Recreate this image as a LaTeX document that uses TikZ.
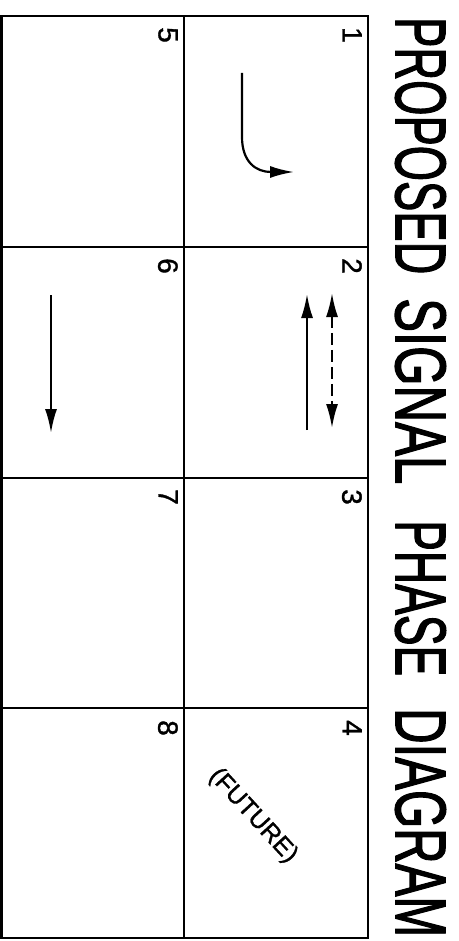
\documentclass[tikz,border=0pt]{standalone}
\usepackage{graphicx}
\usepackage{fontspec}
\setmainfont{Liberation Sans}
\newfontfamily\heavy[FakeBold=1.2]{Liberation Sans}
\newfontfamily\heavier[FakeBold=2]{Liberation Sans}
\usetikzlibrary{arrows.meta}
\begin{document}
\begin{tikzpicture}[x=1pt,y=-1pt,
  gridline/.style={line width=2.6pt},
  arr/.style={line width=2.2pt,-{Latex[length=24pt,width=12pt]}},
  darr/.style={line width=2.2pt,dash pattern=on 12pt off 5pt,{Latex[length=24pt,width=12pt]}-{Latex[length=24pt,width=12pt]}},
  num/.style={rotate=-90,anchor=north west,inner sep=0pt,font=\heavy\fontsize{28}{28}\selectfont},
  ttl/.style={rotate=-90,anchor=north west,inner sep=0pt,font=\heavier}]
\useasboundingbox[fill=white] (0,0) rectangle (458,941);
% grid
\draw[gridline] (1.3,16) rectangle (368,938);
\draw[gridline] (184,16) -- (184,938);
\foreach \yy in {247,478,708} \draw[gridline] (1.3,\yy) -- (368,\yy);
% title
\node[ttl] (t1) at (446,17)  {\resizebox{257pt}{50pt}{PROPOSED}};
\node[ttl] (t2) at (446,298) {\resizebox{186pt}{50pt}{SIGNAL}};
\node[ttl] (t3) at (446,520) {\resizebox{156pt}{50pt}{PHASE}};
\node[ttl] (t4) at (446,708) {\resizebox{229pt}{50pt}{DIAGRAM}};
% phase numbers
\node[num] (n1) at (362,27)  {1};
\node[num] (n2) at (362,258) {2};
\node[num] (n3) at (362,489) {3};
\node[num] (n4) at (362,720) {4};
\node[num] (n5) at (178,27)  {5};
\node[num] (n6) at (178,258) {6};
\node[num] (n7) at (178,489) {7};
\node[num] (n8) at (178,720) {8};
% phase 1 turning arrow
\coordinate (a1s) at (242,73);
\coordinate (a1m) at (242,137);
\coordinate (a1e) at (294,172);
\draw[arr] (a1s) -- (a1m) .. controls (242,162) and (256,172) .. (a1e);
% phase 2 arrows
\coordinate (a2s) at (307,430);
\coordinate (a2e) at (307,294);
\draw[arr] (a2s) -- (a2e);
\coordinate (d2s) at (332,293);
\coordinate (d2e) at (332,428);
\draw[darr] (d2s) -- (d2e);
% phase 6 arrow
\coordinate (a6s) at (51,295);
\coordinate (a6e) at (51,433);
\draw[arr] (a6s) -- (a6e);
% future
\node[rotate=-47.5,inner sep=0pt] (fut) at (253,816) {\resizebox{118pt}{!}{\heavy\fontsize{20}{20}\selectfont (FUTURE)}};
\end{tikzpicture}
\end{document}
